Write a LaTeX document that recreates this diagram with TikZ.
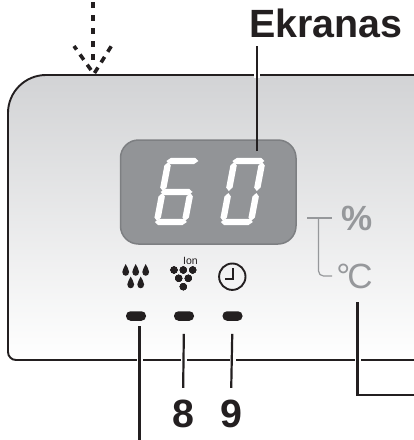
\documentclass[tikz,border=0pt]{standalone}
\usepackage{fontspec}
\setmainfont{Liberation Sans}
\definecolor{panelgray}{RGB}{210,211,213}
\definecolor{screengray}{RGB}{146,148,151}
\definecolor{screenedge}{RGB}{125,127,130}
\definecolor{markgray}{RGB}{150,152,155}
\definecolor{inkblack}{RGB}{35,31,32}
\tikzset{
  leader/.style={draw=inkblack,line width=2.2pt},
  halo/.style={draw=white,line width=6pt},
  callout/.style={inkblack,inner sep=0pt,font=\bfseries\fontsize{39.4}{39.4}\selectfont},
  button/.style={fill=inkblack,rounded corners=4.5pt,minimum width=20pt,minimum height=9.5pt,inner sep=0pt},
  unit/.style={markgray,inner sep=0pt},
  segment/.style={fill=white,draw=none},
  dashpart/.style={draw=inkblack,line width=4pt,dash pattern=on 6pt off 7pt},
  dasharm/.style={draw=inkblack,line width=3.6pt,dash pattern=on 6.5pt off 6pt}
}
% seven segment bars, local coordinates
\newcommand{\segh}[1]{\path[segment] (1,#1) -- (5,#1-3.2) -- (29,#1-3.2) -- (33,#1) -- (29,#1+3.2) -- (5,#1+3.2) -- cycle;}
\newcommand{\segv}[3]{\path[segment] (#1,#2) -- (#1+3.2,#2+3.5) -- (#1+3.2,#3-3.5) -- (#1,#3) -- (#1-3.2,#3-3.5) -- (#1-3.2,#2+3.5) -- cycle;}
% one drop of water
\newcommand{\drop}[2]{\fill[inkblack] (#1,#2-6) .. controls (#1+1,#2-2.5) and (#1+3.4,#2-1.5) .. (#1+3.4,#2+2) .. controls (#1+3.4,#2+7) and (#1-3.4,#2+7) .. (#1-3.4,#2+2) .. controls (#1-3.4,#2-1.5) and (#1-1,#2-2.5) .. (#1,#2-6) -- cycle;}
\begin{document}
\begin{tikzpicture}[x=1pt,y=-1pt]
\useasboundingbox (0,0) rectangle (414,440);

% Panel
\shade[top color=panelgray,bottom color=white] (414,75) -- (46,75) arc[start angle=270,end angle=180,radius=38] -- (8,352) arc[start angle=180,end angle=90,radius=8] -- (414,360) -- cycle;
\draw[inkblack,line width=1.9pt] (414,75) -- (46,75) arc[start angle=270,end angle=180,radius=38] -- (8,352) arc[start angle=180,end angle=90,radius=8] -- (414,360);

% Arrow
\coordinate (arrowtop) at (92.5,2);
\coordinate (arrowend) at (92.5,62);
\coordinate (tipa) at (91,70);
\coordinate (tipb) at (74,46);
\coordinate (tipd) at (94.5,73);
\coordinate (tipc) at (112,45);
\draw[dashpart] (arrowtop) -- (arrowend);
\draw[dasharm] (tipa) -- (tipb);
\draw[dasharm] (tipd) -- (tipc);

% Screen
\draw[fill=screengray,draw=screenedge,line width=1.5pt,rounded corners=18pt] (120.5,140) rectangle (296,244);
\begin{scope}[shift={(166,158)},xslant=0.19]
\segh{3} \segh{34} \segh{64}
\segv{3}{4}{33} \segv{3}{35}{63} \segv{31}{35}{63}
\end{scope}
\begin{scope}[shift={(232,158)},xslant=0.19]
\segh{3} \segh{64}
\segv{3}{4}{33} \segv{3}{35}{63} \segv{31}{4}{33} \segv{31}{35}{63}
\end{scope}

% Units
\node[unit,font=\bfseries\fontsize{35}{35}\selectfont] (percent) at (357.5,218.5) {\%};
\node[unit,font=\fontsize{35}{35}\selectfont] (celsius) at (354.5,276) {°\kern-3pt C};
\draw[markgray,line width=1.2pt] (307,218) -- (332,218);
\draw[markgray,line width=1.2pt,rounded corners=5pt] (318.5,218) -- (318.5,276) -- (332,276);

% Icons
\foreach \dx/\dy in {125.7/270,135.7/270,145.7/270,130.7/282.5,140.7/282.5}
  \drop{\dx}{\dy}
\foreach \gx/\gy in {174/270,183.3/270,192.7/270,178.7/278.3,188.3/278.3,183.3/286.7}
  \fill[inkblack] (\gx,\gy) circle[radius=3.6];
\node[inkblack,inner sep=0pt,font=\fontsize{10.5}{10.5}\selectfont] (ion) at (190.5,261) {Ion};
\draw[inkblack,line width=1.9pt] (232.3,276.7) circle[radius=13.2];
\draw[inkblack,line width=2pt] (233.3,268) -- (233.3,278.5) -- (225,278.5);

% Buttons
\node[button] (btnsix) at (136,316) {};
\node[button] (btneight) at (184,316) {};
\node[button] (btnnine) at (232.5,316) {};

% Callouts
\node[callout,anchor=base] (screenlabel) at (326,37.5) {Ekranas};
\node[callout,anchor=base] (labeleight) at (183,427.5) {8};
\node[callout,anchor=base] (labelnine) at (231,427.5) {9};
\coordinate (screenend) at (256.7,151);
\coordinate (sixend) at (139.5,440);
\coordinate (unitbend) at (357.5,395);
\coordinate (unitend) at (414,395);
\coordinate (unittop) at (357.5,302);

% Leaders
\draw[halo] (256.7,72) -- (256.7,78);
\draw[halo] (139.5,357) -- (139.5,363);
\draw[halo] (184,357) -- (184,363);
\draw[halo] (232.5,357) -- (232.5,363);
\draw[halo] (357.5,357) -- (357.5,363);
\draw[leader,shorten >=8pt] (screenend) -- (screenend |- screenlabel.south);
\draw[leader,shorten >=5.5pt] (sixend) -- (sixend |- btnsix.south);
\draw[leader,shorten <=13pt,shorten >=12pt] (btneight.south) -- (labeleight.north);
\draw[leader,shorten <=13pt,shorten >=12pt] (btnnine.south) -- (labelnine.north);
\draw[leader] (unittop) -- (unitbend) -- (unitend);
\end{tikzpicture}
\end{document}
